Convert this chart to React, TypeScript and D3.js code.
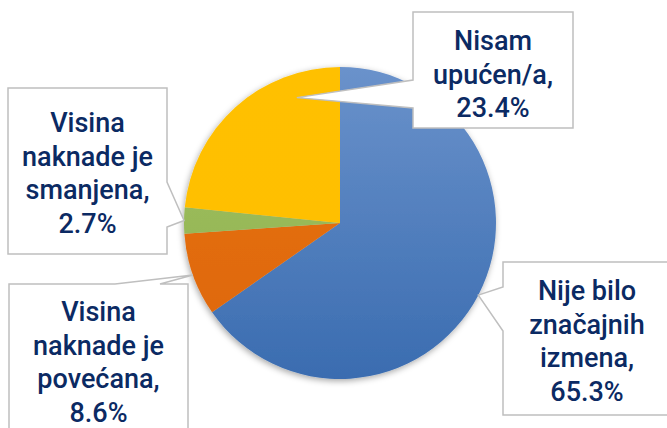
import React, { useEffect, useRef } from 'react';
import * as d3 from 'd3';

// data
const categories = [
  'Nije bilo značajnih izmena',
  'Visina naknade je povećana',
  'Visina naknade je smanjena',
  'Nisam upućen/a',
];
const values = [65.3, 8.6, 2.7, 23.4];
const labelLines = [
  ['Nije bilo', 'značajnih', 'izmena,', '65.3%'],
  ['Visina', 'naknade je', 'povećana,', '8.6%'],
  ['Visina', 'naknade je', 'smanjena,', '2.7%'],
  ['Nisam', 'upućen/a,', '23.4%'],
];
const colorsTop = ['#6a92cb', '#e8741a', '#a3c265', '#ffc000'];
const colorsBottom = ['#3a6cb0', '#dd6606', '#8db04c', '#ffbf00'];

// callout box layout (box, pointer side, pointer base, tip angle/radius)
const callouts = [
  { x: 503, y: 262, w: 172, h: 153, side: 'left', b1: 331, b2: 287, tipR: 1.0, tipA: null, cx: 587, base: 300 },
  { x: 9, y: 284, w: 179, h: 170, side: 'top', b1: 115, b2: 160, tipR: 1.0, tipA: null, cx: 98.5, base: 321 },
  { x: 8, y: 88, w: 159, h: 166, side: 'right', b1: 182, b2: 227, tipR: 1.0, tipA: null, cx: 87.5, base: 132 },
  { x: 413, y: 12, w: 160, h: 116, side: 'left', b1: 108, b2: 80, tipR: 0.85, tipA: 341, cx: 493, base: 50 },
];

const W = 667;
const H = 428;
const cx = 340;
const cy = 223;
const R = 156;
const lineH = 33.5;

function App() {
  const ref = useRef<SVGSVGElement>(null);

  useEffect(() => {
    const svg = d3.select(ref.current);
    svg.selectAll('*').remove();

    const defs = svg.append('defs');
    categories.forEach((c, i) => {
      // gradient runs in the pie group's local space (centered at 0,0)
      const g = defs.append('linearGradient')
        .attr('id', `grad${i}`)
        .attr('gradientUnits', 'userSpaceOnUse')
        .attr('x1', 0).attr('x2', 0)
        .attr('y1', -R).attr('y2', R);
      g.append('stop').attr('offset', '0%').attr('stop-color', colorsTop[i]);
      g.append('stop').attr('offset', '100%').attr('stop-color', colorsBottom[i]);
    });
    const f = defs.append('filter').attr('id', 'shadow')
      .attr('x', '-20%').attr('y', '-20%').attr('width', '140%').attr('height', '140%');
    f.append('feDropShadow')
      .attr('dx', -1).attr('dy', 2).attr('stdDeviation', 3)
      .attr('flood-color', '#000').attr('flood-opacity', 0.35);

    const pie = d3.pie<number>().sort(null).value(d => d);
    const arcs = pie(values);
    const arc = d3.arc<d3.PieArcDatum<number>>().innerRadius(0).outerRadius(R);

    const g = svg.append('g').attr('transform', `translate(${cx},${cy})`);
    g.append('g').attr('filter', 'url(#shadow)')
      .selectAll('path')
      .data(arcs)
      .join('path')
      .attr('d', arc)
      .attr('fill', (d, i) => `url(#grad${i})`);

    // callouts
    callouts.forEach((c, i) => {
      const a = arcs[i];
      const ang = c.tipA != null ? (c.tipA * Math.PI) / 180 : (a.startAngle + a.endAngle) / 2;
      const tx = cx + Math.sin(ang) * R * c.tipR;
      const ty = cy - Math.cos(ang) * R * c.tipR;
      const { x, y, w, h } = c;
      let pts: [number, number][] = [];
      if (c.side === 'left') {
        pts = [[x, y], [x + w, y], [x + w, y + h], [x, y + h], [x, c.b1], [tx, ty], [x, c.b2]];
      } else if (c.side === 'top') {
        pts = [[x, y], [c.b1, y], [tx, ty], [c.b2, y], [x + w, y], [x + w, y + h], [x, y + h]];
      } else {
        pts = [[x, y], [x + w, y], [x + w, c.b1], [tx, ty], [x + w, c.b2], [x + w, y + h], [x, y + h]];
      }
      svg.append('path')
        .attr('d', d3.line()(pts) + 'Z')
        .attr('fill', '#fff')
        .attr('stroke', '#bfbfbf')
        .attr('stroke-width', 1.5)
        .attr('stroke-linejoin', 'miter');

      const t = svg.append('text')
        .attr('text-anchor', 'middle')
        .attr('fill', '#0b2a63')
        .style('font-family', 'Roboto, sans-serif')
        .style('font-weight', 500)
        .style('font-size', '27px');
      labelLines[i].forEach((ln, j) => {
        t.append('tspan').attr('x', c.cx).attr('y', c.base + j * lineH).text(ln);
      });
    });
  }, []);

  return (
    <svg
      ref={ref}
      width={W}
      height={H}
      style={{ position: 'absolute', left: 0, top: 0, background: '#fff' }}
    />
  );
}

export default App;
